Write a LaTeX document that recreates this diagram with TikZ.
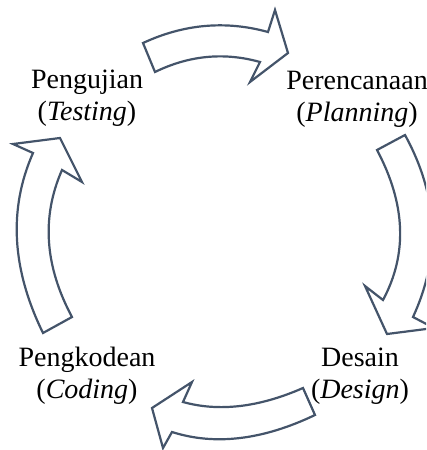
\documentclass[tikz,border=0pt]{standalone}
\usepackage{fontspec}
\setmainfont{Liberation Serif}
\definecolor{arrowline}{RGB}{68,84,106}
\begin{document}
\begin{tikzpicture}[x=1pt,y=-1pt,
  cyclearrow/.style={draw=arrowline,line width=2.2pt,fill=white,line join=miter},
  phase/.style={align=center,inner sep=0pt,font=\fontsize{28}{32}\selectfont}]
\useasboundingbox (0,0) rectangle (426,450);
\clip (0,0) rectangle (426,450);
% top arrow (Testing -> Planning)
\draw[cyclearrow] (143,43) .. controls (184,24) and (225.7,20.3) .. (268,32)
  -- (275,10) -- (288,53) -- (250,82) -- (260,62)
  .. controls (224.3,52) and (189.3,55.3) .. (155,72) -- cycle;
% right arrow (Planning -> Design)
\draw[cyclearrow] (405,135) .. controls (438.3,195.7) and (441,256.3) .. (413,317)
  -- (434,328) -- (387,334) -- (365,286) -- (383,300)
  .. controls (407.7,254) and (405.7,204) .. (377,150) -- cycle;
% bottom arrow (Design -> Coding)
\draw[cyclearrow] (303,388) .. controls (259,407.3) and (219,412) .. (183,402)
  -- (192,382) -- (152,408) -- (163,448) -- (172,432)
  .. controls (215,445.7) and (262.7,440) .. (315,415) -- cycle;
% left arrow (Coding -> Testing)
\draw[cyclearrow] (43,333) .. controls (11.7,269) and (8.3,209) .. (33,153)
  -- (13,144) -- (60,138) -- (82,182) -- (62,170)
  .. controls (41.3,217) and (44.7,266) .. (72,317) -- cycle;
% labels
\node[phase] (testing) at (87,98) {Pengujian\\(\textit{Testing})};
\node[phase] (planning) at (357,99) {Perencanaan\\(\textit{Planning})};
\node[phase] (coding) at (87,376) {Pengkodean\\(\textit{Coding})};
\node[phase] (design) at (360,376) {Desain\\(\textit{Design})};
\end{tikzpicture}
\end{document}
